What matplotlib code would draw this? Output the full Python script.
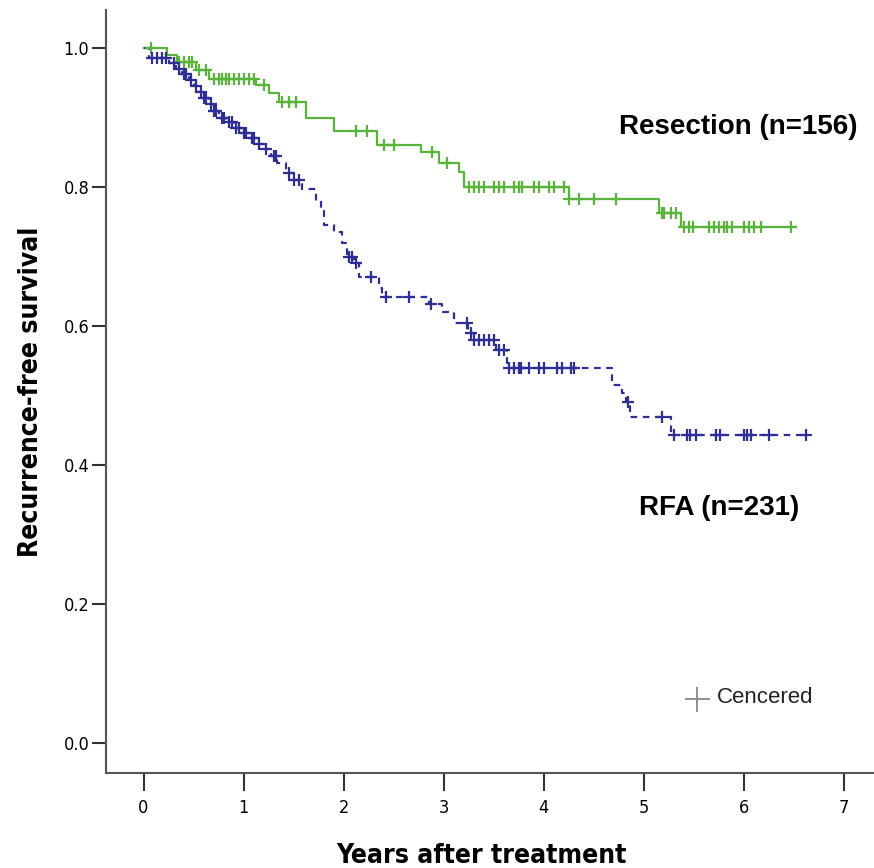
import numpy as np
import matplotlib.pyplot as plt

# Resection (n=156): step times and survival after each step
res_t = [0.0, 0.23, 0.33, 0.52, 0.65, 1.12, 1.25, 1.35, 1.62, 1.9, 2.33, 2.77, 2.95, 3.15, 3.2, 4.25, 5.15, 5.37]
res_s = [1.0, 0.99, 0.98, 0.968, 0.955, 0.947, 0.935, 0.922, 0.90, 0.88, 0.86, 0.85, 0.834, 0.822, 0.80, 0.783, 0.763, 0.742]
res_end = 6.52
res_cens = [0.07, 0.35, 0.4, 0.45, 0.48, 0.55, 0.62, 0.7, 0.75, 0.78, 0.82, 0.85, 0.9, 0.95, 1.0,
            1.05, 1.1, 1.2, 1.38, 1.45, 1.52, 2.12, 2.23, 2.4, 2.5, 2.88, 3.03, 3.25, 3.3, 3.35,
            3.4, 3.5, 3.55, 3.6, 3.7, 3.75, 3.78, 3.9, 3.95, 4.05, 4.1, 4.2, 4.25, 4.35, 4.5,
            4.72, 5.18, 5.2, 5.27, 5.32, 5.4, 5.45, 5.49, 5.65, 5.7, 5.75, 5.8, 5.83, 5.88,
            6.0, 6.05, 6.1, 6.17, 6.47]

# RFA (n=231)
rfa_t = [0.0, 0.05, 0.25, 0.32, 0.38, 0.45, 0.5, 0.55, 0.6, 0.65, 0.7, 0.75, 0.82, 0.9, 0.98,
         1.05, 1.12, 1.2, 1.27, 1.33, 1.42, 1.5, 1.58, 1.72, 1.77, 1.8, 1.9, 1.98, 2.03, 2.1,
         2.15, 2.35, 2.38, 2.85, 2.98, 3.1, 3.24, 3.3, 3.52, 3.63, 4.68, 4.78, 4.82, 4.86, 5.27]
rfa_s = [1.0, 0.985, 0.978, 0.97, 0.962, 0.954, 0.945, 0.937, 0.928, 0.92, 0.91, 0.9, 0.893,
         0.885, 0.877, 0.87, 0.862, 0.855, 0.845, 0.835, 0.82, 0.81, 0.797, 0.78, 0.765, 0.745,
         0.735, 0.72, 0.70, 0.69, 0.67, 0.655, 0.642, 0.632, 0.62, 0.605, 0.59, 0.58, 0.565,
         0.54, 0.515, 0.503, 0.49, 0.469, 0.443]
rfa_end = 6.62
rfa_cens = [0.08, 0.13, 0.18, 0.22, 0.3, 0.35, 0.4, 0.42, 0.47, 0.52, 0.57, 0.6, 0.62, 0.67,
            0.7, 0.72, 0.78, 0.8, 0.85, 0.88, 0.92, 0.95, 1.0, 1.02, 1.08, 1.1, 1.15, 1.22,
            1.3, 1.32, 1.45, 1.5, 1.55, 2.05, 2.08, 2.12, 2.27, 2.42, 2.65, 2.87, 3.23, 3.27,
            3.3, 3.35, 3.4, 3.45, 3.5, 3.55, 3.6, 3.65, 3.7, 3.75, 3.77, 3.85, 3.95, 4.0,
            4.13, 4.18, 4.27, 4.3, 4.84, 5.18, 5.3, 5.43, 5.46, 5.52, 5.72, 5.76, 6.0, 6.03,
            6.07, 6.25, 6.62]

green = '#5ab43c'
blue = '#2e2e96'


def surv_at(t, times, surv):
    idx = np.searchsorted(times, t, side='right') - 1
    return np.array(surv)[idx]


fig = plt.figure(figsize=(8.74, 8.68), dpi=100)
ax = fig.add_axes([0.1213, 0.1094, 0.8787, 0.8791])

# curves
ax.step(res_t + [res_end], res_s + [res_s[-1]], where='post', color=green, lw=1.6)
ax.step(rfa_t + [rfa_end], rfa_s + [rfa_s[-1]], where='post', color=blue, lw=1.6,
        linestyle=(0, (3, 2.5)))

# censored marks
rc = np.array(res_cens)
ax.plot(rc, surv_at(rc, res_t, res_s), '+', color=green, ms=9, mew=1.6)
fc = np.array(rfa_cens)
ax.plot(fc, surv_at(fc, rfa_t, rfa_s), '+', color=blue, ms=9, mew=1.6)

ax.set_xlim(-0.375, 7.3)
ax.set_ylim(-0.0432, 1.0547)
ax.set_xticks(range(8))
ax.set_yticks([0.0, 0.2, 0.4, 0.6, 0.8, 1.0])
ax.set_yticklabels(['0.0', '0.2', '0.4', '0.6', '0.8', '1.0'])
ax.spines['top'].set_visible(False)
ax.spines['right'].set_visible(False)
for s in ['left', 'bottom']:
    ax.spines[s].set_color('#555555')
    ax.spines[s].set_linewidth(1.5)
ax.tick_params(axis='y', length=10, width=1.5, color='#333333', labelsize=13, pad=2)
ax.tick_params(axis='x', length=13, width=1.5, color='#333333', labelsize=13, pad=6)
for lab in ax.get_xticklabels() + ax.get_yticklabels():
    lab.set_family('DejaVu Sans')
    lab.set_stretch('condensed')

ax.set_xlabel('Years after treatment', fontsize=19, fontweight='bold', family='DejaVu Sans',
              stretch='condensed', va='center')
ax.xaxis.set_label_coords(0.489, -0.109)
ax.set_ylabel('Recurrence-free survival', fontsize=19, fontweight='bold', family='DejaVu Sans',
              stretch='condensed', labelpad=14)

ax.text(4.75, 0.887, 'Resection (n=156)', fontsize=20, fontweight='bold',
        family='Liberation Sans', va='center', ha='left')
ax.text(4.95, 0.338, 'RFA (n=231)', fontsize=20, fontweight='bold',
        family='Liberation Sans', va='center', ha='left')

# legend
ax.plot([5.53], [0.064], '+', color='#888888', ms=18, mew=1.3)
ax.text(5.73, 0.066, 'Cencered', fontsize=16, family='Liberation Sans', va='center',
        ha='left', color='#222222')

fig.savefig('out.png', dpi=100)
